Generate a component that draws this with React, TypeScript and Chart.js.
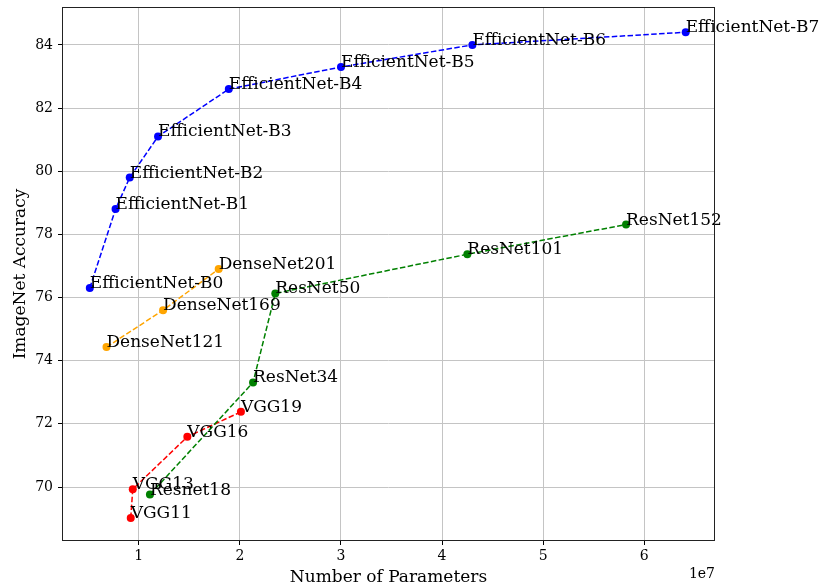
import React, { useEffect, useRef } from "react";
import { Chart, registerables } from "chart.js";
Chart.register(...registerables);

const effNames = ["EfficientNet-B0","EfficientNet-B1","EfficientNet-B2","EfficientNet-B3","EfficientNet-B4","EfficientNet-B5","EfficientNet-B6","EfficientNet-B7"];
const effParams = [5.15e6, 7.7e6, 9.1e6, 11.9e6, 18.9e6, 30.0e6, 43.0e6, 64.1e6];
const effAcc = [76.3, 78.8, 79.8, 81.1, 82.6, 83.3, 84.0, 84.4];

const denseNames = ["DenseNet121","DenseNet169","DenseNet201"];
const denseParams = [6.8e6, 12.4e6, 17.9e6];
const denseAcc = [74.43, 75.6, 76.9];

const resNames = ["Resnet18","ResNet34","ResNet50","ResNet101","ResNet152"];
const resParams = [11.1e6, 21.3e6, 23.5e6, 42.5e6, 58.2e6];
const resAcc = [69.76, 73.31, 76.13, 77.37, 78.31];

const vggNames = ["VGG11","VGG13","VGG16","VGG19"];
const vggParams = [9.2e6, 9.4e6, 14.8e6, 20.1e6];
const vggAcc = [69.02, 69.93, 71.59, 72.38];

const xTicks = [1e7, 2e7, 3e7, 4e7, 5e7, 6e7];
const yTicks = [70, 72, 74, 76, 78, 80, 82, 84];

const SERIF = "'DejaVu Serif', serif";

function pts(xs: number[], ys: number[]) {
  return xs.map((x, i) => ({ x, y: ys[i] }));
}

export default function App() {
  const ref = useRef<HTMLCanvasElement | null>(null);
  useEffect(() => {
    const canvas = ref.current!;
    const mk = (label: string, xs: number[], ys: number[], names: string[], color: string) => ({
      label,
      data: pts(xs, ys),
      names,
      borderColor: color,
      backgroundColor: color,
      pointBackgroundColor: color,
      pointBorderColor: color,
      pointRadius: 4,
      pointBorderWidth: 0,
      borderWidth: 1.5,
      borderDash: [5.5, 2.4],
      showLine: true,
      tension: 0,
    });
    const labelPlugin = {
      id: "labels",
      afterDatasetsDraw(chart: any) {
        const ctx = chart.ctx;
        ctx.save();
        ctx.font = `17px ${SERIF}`;
        ctx.fillStyle = "#000";
        ctx.textAlign = "left";
        ctx.textBaseline = "alphabetic";
        chart.data.datasets.forEach((ds: any, di: number) => {
          const meta = chart.getDatasetMeta(di);
          meta.data.forEach((el: any, i: number) => {
            ctx.fillText(ds.names[i], el.x, el.y);
          });
        });
        ctx.restore();
      },
      afterDraw(chart: any) {
        const ctx = chart.ctx;
        const a = chart.chartArea;
        ctx.save();
        ctx.strokeStyle = "#222";
        ctx.lineWidth = 1;
        ctx.strokeRect(Math.round(a.left) + 0.5, Math.round(a.top) + 0.5, Math.round(a.right - a.left) - 1, Math.round(a.bottom - a.top) - 1);
        ctx.fillStyle = "#000";
        ctx.font = `17px ${SERIF}`;
        ctx.textAlign = "center";
        ctx.textBaseline = "alphabetic";
        ctx.fillText("Number of Parameters", (a.left + a.right) / 2, 582);
        ctx.save();
        ctx.translate(25, (a.top + a.bottom) / 2);
        ctx.rotate(-Math.PI / 2);
        ctx.fillText("ImageNet Accuracy", 0, 0);
        ctx.restore();
        ctx.font = `14px ${SERIF}`;
        ctx.textAlign = "right";
        ctx.fillText("1e7", a.right, 578);
        ctx.restore();
      },
    };
    const chart = new Chart(canvas, {
      type: "scatter",
      data: {
        datasets: [
          mk("EfficientNet", effParams, effAcc, effNames, "#0000ff"),
          mk("DenseNet", denseParams, denseAcc, denseNames, "#ffa500"),
          mk("ResNet", resParams, resAcc, resNames, "#008000"),
          mk("VGG", vggParams, vggAcc, vggNames, "#ff0000"),
        ] as any,
      },
      options: {
        animation: false,
        responsive: false,
        events: [],
        layout: { padding: { left: 0, top: 7, right: 106, bottom: 0 } },
        plugins: { legend: { display: false }, tooltip: { enabled: false } },
        scales: {
          x: {
            type: "linear",
            bounds: "data",
            min: 2.4e6,
            max: 6.70e7,
            afterFit: (s: any) => { s.height = 45; s.paddingLeft = 0; s.paddingRight = 0; },
            afterBuildTicks: (s: any) => { s.ticks = xTicks.map((v) => ({ value: v })); },
            border: { display: false },
            grid: { color: "#c4c4c4", lineWidth: 1, tickColor: "#000", tickLength: 4, drawTicks: true },
            ticks: {
              padding: 3,
              color: "#000",
              font: { family: SERIF, size: 14 },
              maxRotation: 0,
              autoSkip: false,
              callback: (v: any) => String(Math.round(Number(v) / 1e7)),
            },
          },
          y: {
            type: "linear",
            bounds: "data",
            min: 68.29,
            max: 85.2,
            afterFit: (s: any) => { s.width = 62; s.paddingTop = 0; s.paddingBottom = 0; },
            afterBuildTicks: (s: any) => { s.ticks = yTicks.map((v) => ({ value: v })); },
            border: { display: false },
            grid: { color: "#c4c4c4", lineWidth: 1, tickColor: "#000", tickLength: 4, drawTicks: true },
            ticks: {
              padding: 5,
              color: "#000",
              autoSkip: false,
              font: { family: SERIF, size: 14 },
              callback: (v: any) => String(v),
            },
          },
        },
      } as any,
      plugins: [labelPlugin],
    });
    return () => chart.destroy();
  }, []);
  return (
    <div style={{ position: "fixed", left: 0, top: 0, width: 821, height: 586, background: "#fff" }}>
      <canvas ref={ref} width={821} height={586} style={{ width: 821, height: 586, display: "block" }} />
    </div>
  );
}
